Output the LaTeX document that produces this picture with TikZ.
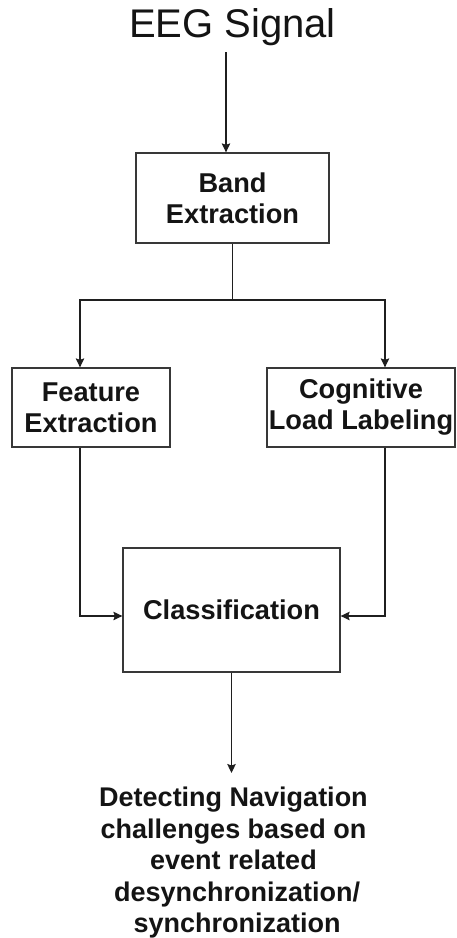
\documentclass[tikz,border=0pt]{standalone}
\usepackage{fontspec}
\setmainfont{Liberation Sans}
\usetikzlibrary{arrows.meta}
\tikzset{
  box/.style={draw=black!78, line width=1.3pt, inner sep=0pt, align=center,
    font=\fontsize{27.2}{31}\selectfont\bfseries, text=black!92},
  conn/.style={draw=black!88, line width=1.1pt},
  arr/.style={conn, -{Stealth[length=9pt,width=8.5pt,inset=1.5pt]}},
  plain/.style={inner sep=0pt, align=center, text=black!92}
}
\begin{document}
\begin{tikzpicture}[x=1pt,y=-1pt]
\useasboundingbox[fill=white] (0,0) rectangle (456,938);
% title
\node[plain, anchor=base, font=\fontsize{40}{44}\selectfont] (eeg) at (232.5,37) {EEG Signal};
% boxes
\node[box, minimum width=193pt, minimum height=90pt] (band) at (232.5,198) {Band\\Extraction};
\node[box, minimum width=158pt, minimum height=79pt] (feat) at (91,407.5) {Feature\\Extraction};
\node[box, minimum width=188pt, minimum height=79pt] (cog) at (361,407.5) {Cognitive\\Load Labeling};
\node[box, minimum width=217pt, minimum height=124pt] (cls) at (231.5,610) {Classification};
\node[plain, anchor=north, font=\fontsize{27}{31.5}\selectfont\bfseries] (out) at (233.5,787)
  {Detecting Navigation\\challenges based on\\event related\\\hspace*{7.4pt}desynchronization/\\\hspace*{7.4pt}synchronization};
% helper coordinates
\coordinate (a1) at (226,52);
\coordinate (sp) at (232.5,300);
\coordinate (fl) at (80,0);
\coordinate (cr) at (385,0);
\coordinate (cy) at (0,616);
\coordinate (tip) at (0,773);
% connectors
\draw[arr] (a1) -- (a1 |- band.north);
\draw[conn] (band.south) -- (sp);
\draw[arr] (sp) -| (feat.north -| fl);
\draw[arr] (sp) -| (cog.north -| cr);
\draw[arr] (feat.south -| fl) |- (cls.west |- cy);
\draw[arr] (cog.south -| cr) |- (cls.east |- cy);
\draw[arr] (cls.south) -- (cls.south |- tip);
\end{tikzpicture}
\end{document}
